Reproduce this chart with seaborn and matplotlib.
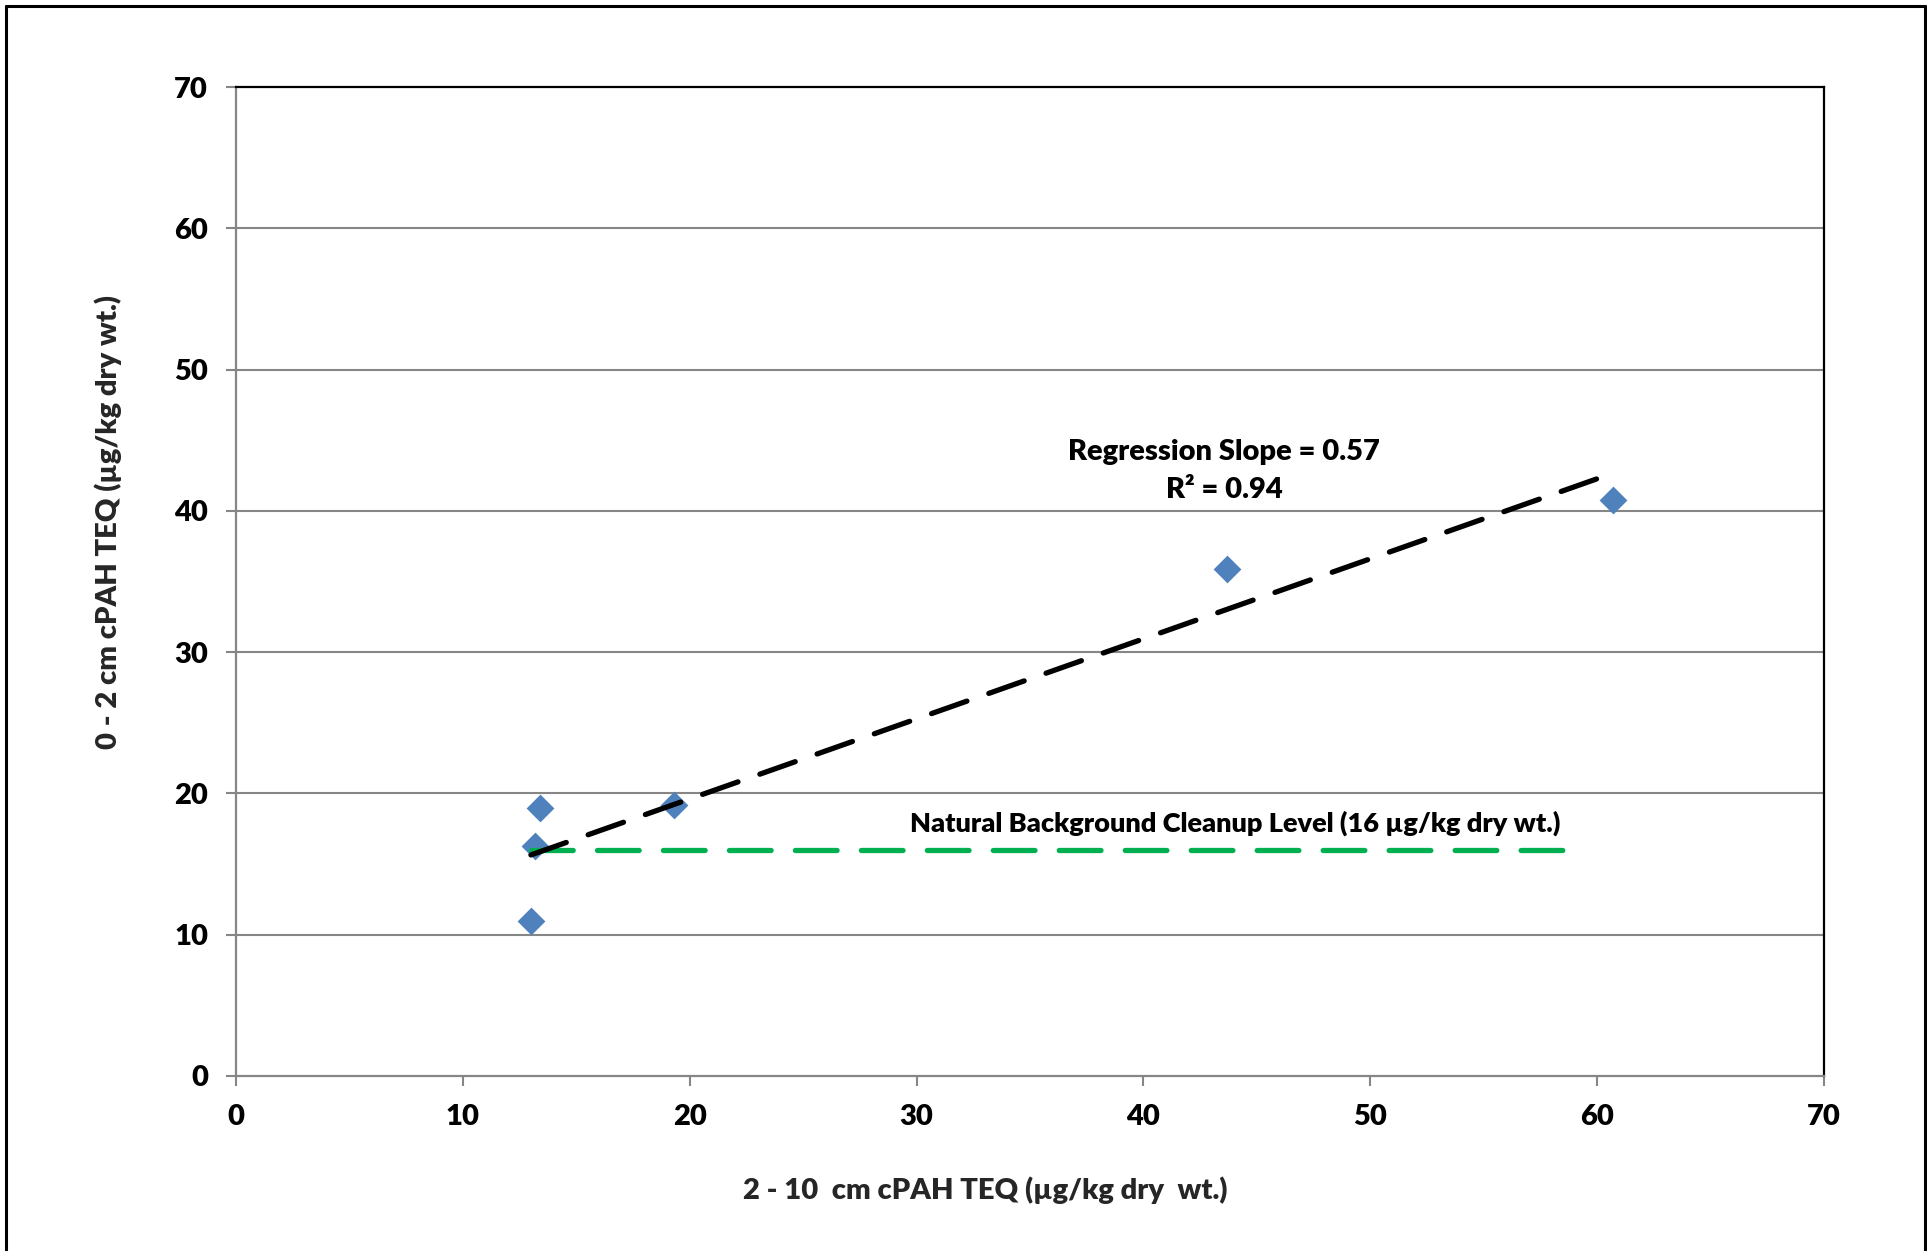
import numpy as np
import pandas as pd
import matplotlib
matplotlib.use("Agg")
import matplotlib.pyplot as plt
import seaborn as sns
from matplotlib.lines import Line2D

# ---- data ----
x_vals = [13.0, 13.2, 13.4, 19.3, 43.7, 60.7]   # 2-10 cm cPAH TEQ
y_vals = [11.0, 16.3, 19.0, 19.2, 35.9, 40.8]   # 0-2 cm cPAH TEQ
bg_level = 16.0
bg_x = [13.0, 59.5]
ticks = [0, 10, 20, 30, 40, 50, 60, 70]
slope_text = "Regression Slope = 0.57"
r2_text = "R² = 0.94"
bg_text = "Natural Background Cleanup Level (16 µg/kg dry wt.)"
xlabel = "2 - 10  cm cPAH TEQ (µg/kg dry  wt.)"
ylabel = "0 - 2 cm cPAH TEQ (µg/kg dry wt.)"

df = pd.DataFrame({"x": x_vals, "y": y_vals})
bg_df = pd.DataFrame({"x": bg_x, "y": [bg_level] * len(bg_x)})

sns.set_theme(style="white")
plt.rcParams['font.family'] = ['Lato', 'DejaVu Sans']
FW = "heavy"
FS = 21

W, H = 1927, 1251
fig = plt.figure(figsize=(W / 100, H / 100), dpi=100)
fig.patch.set_facecolor("white")
ax = fig.add_axes([236 / W, 175 / H, 1588 / W, 989 / H])

grid_c = "#868686"
blue = "#4F81BD"
green = "#00B050"

sns.scatterplot(data=df, x="x", y="y", ax=ax, marker="D", s=200,
                color=blue, linewidth=0, zorder=3, legend=False)
sns.lineplot(data=bg_df, x="x", y="y", ax=ax, color=green, lw=3.8,
             linestyle=(0, (7.9, 4.6)), dash_capstyle="round", zorder=4,
             legend=False)
sns.regplot(data=df, x="x", y="y", ax=ax, scatter=False, ci=None,
            line_kws=dict(color="black", lw=3.8, linestyle=(0, (7.1, 4.4)),
                          dash_capstyle="round", zorder=5))

ax.set_xlim(0, 70)
ax.set_ylim(0, 70)
ax.set_xticks(ticks)
ax.set_yticks(ticks)
ax.set_xticklabels([str(t) for t in ticks])
ax.set_yticklabels([str(t) for t in ticks])

for yv in ticks[1:-1]:
    ax.axhline(yv, color=grid_c, lw=1.5, zorder=1)

for s in ["top", "right"]:
    ax.spines[s].set_color("black")
    ax.spines[s].set_linewidth(1.6)
for s in ["left", "bottom"]:
    ax.spines[s].set_color(grid_c)
    ax.spines[s].set_linewidth(1.6)

ax.tick_params(axis="both", which="major", direction="out", length=7,
               width=1.5, color=grid_c, labelsize=FS, pad=13,
               bottom=True, left=True, labelcolor="black")
for lab in ax.get_xticklabels() + ax.get_yticklabels():
    lab.set_fontweight(FW)

ax.set_xlabel(xlabel, fontsize=FS, fontweight=FW, va="center")
ax.set_ylabel(ylabel, fontsize=FS, fontweight=FW, va="center")
ax.xaxis.set_label_coords(0.4717, -0.1153)
ax.yaxis.set_label_coords(-0.0806, 0.560)

ax.text(43.55, 44.2, slope_text, ha="center", va="center", fontsize=FS,
        fontweight=FW, color="black", zorder=6)
ax.text(43.55, 41.5, r2_text, ha="center", va="center", fontsize=FS,
        fontweight=FW, color="black", zorder=6)
ax.text(44.04, 17.9, bg_text, ha="center", va="center", fontsize=19.5,
        fontweight=FW, color="black", zorder=6)

# outer border (left, top, right)
fig.add_artist(Line2D([6 / W, 6 / W], [0, 1 - 6 / H], transform=fig.transFigure,
                      color="black", lw=2.2))
fig.add_artist(Line2D([6 / W, 1925 / W], [1 - 6 / H, 1 - 6 / H],
                      transform=fig.transFigure, color="black", lw=2.2))
fig.add_artist(Line2D([1925 / W, 1925 / W], [0, 1 - 6 / H],
                      transform=fig.transFigure, color="black", lw=2.2))

fig.savefig("out.png", dpi=100, facecolor="white")
